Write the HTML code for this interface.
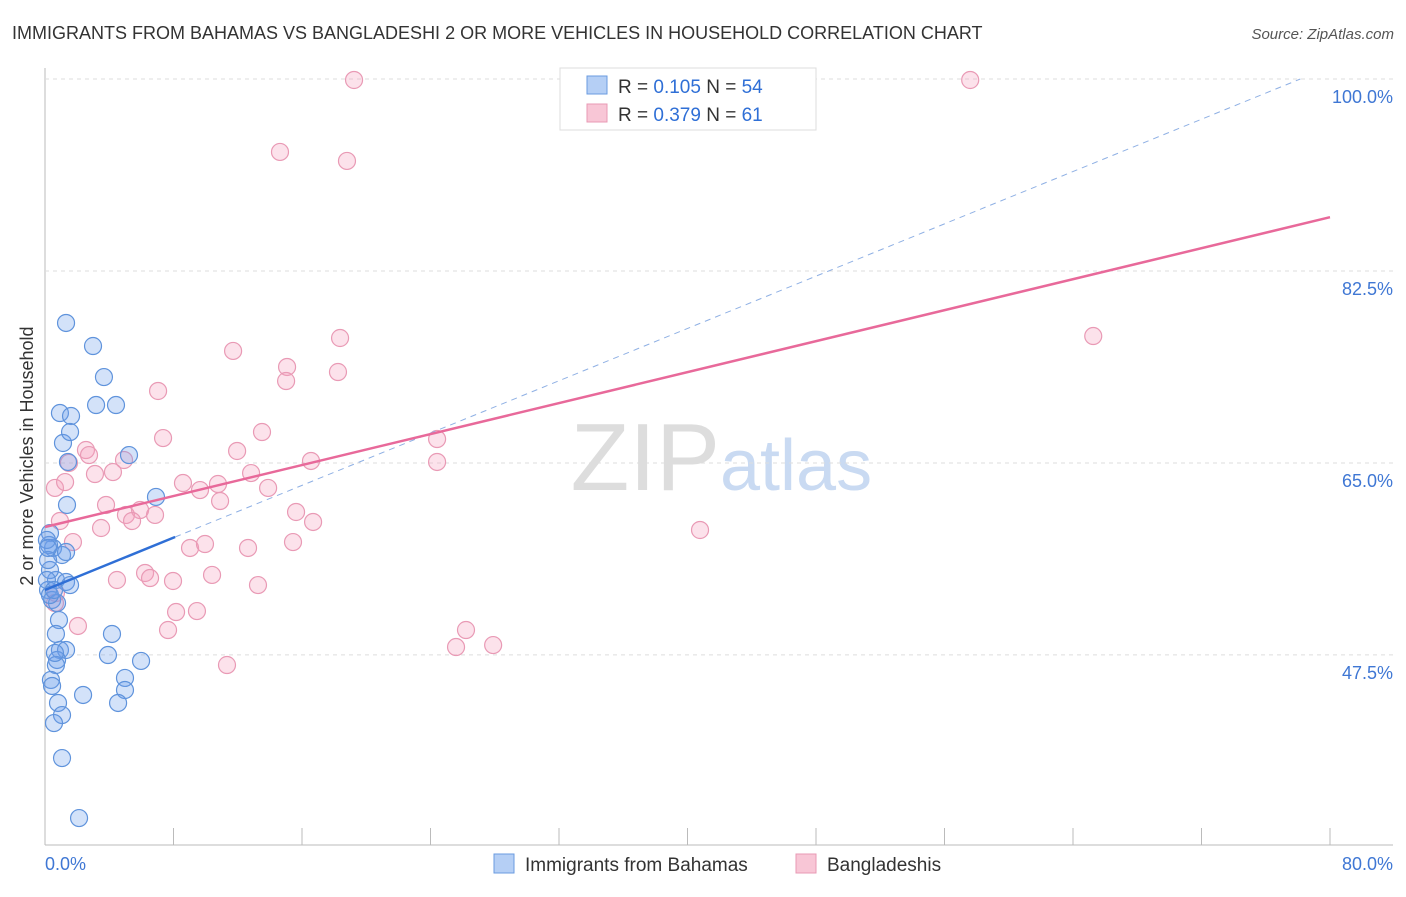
<!DOCTYPE html>
<html><head><meta charset="utf-8"><style>
body{margin:0;background:#fff;font-family:"Liberation Sans",sans-serif}
svg text{font-family:"Liberation Sans",sans-serif}
</style></head><body>
<svg id="c" width="1406" height="892">
<text x="12" y="39" font-size="18" fill="#333">IMMIGRANTS FROM BAHAMAS VS BANGLADESHI 2 OR MORE VEHICLES IN HOUSEHOLD CORRELATION CHART</text>
<text x="1394" y="39" font-size="15" fill="#555" text-anchor="end" font-style="italic">Source: ZipAtlas.com</text>
<text x="720" y="490" font-size="96" fill="#ddd" text-anchor="end" font-family="Liberation Serif">ZIP</text>
<text x="720" y="490" font-size="72" fill="#c9daf2">atlas</text>
<text transform="translate(33,456) rotate(-90)" font-size="18" fill="#333" text-anchor="middle">2 or more Vehicles in Household</text>
<g id="grid"></g><g id="marks"></g>
<g>
<rect x="560" y="68" width="256" height="62" fill="#fff" stroke="#ddd"/>
<rect x="587" y="76" width="20" height="18" fill="#b5cff5" stroke="#6a9be0"/>
<rect x="587" y="104" width="20" height="18" fill="#f8c6d6" stroke="#e89ab4"/>
<text x="618" y="93" font-size="19" fill="#333">R = <tspan fill="#2f6fd6">0.105</tspan>   N = <tspan fill="#2f6fd6">54</tspan></text>
<text x="618" y="121" font-size="19" fill="#333">R = <tspan fill="#2f6fd6">0.379</tspan>   N =  <tspan fill="#2f6fd6">61</tspan></text>
</g>
<g>
<rect x="494" y="854" width="20" height="19" fill="#b5cff5" stroke="#6a9be0"/>
<text x="525" y="871" font-size="19" fill="#333">Immigrants from Bahamas</text>
<rect x="796" y="854" width="20" height="19" fill="#f8c6d6" stroke="#e89ab4"/>
<text x="827" y="871" font-size="19" fill="#333">Bangladeshis</text>
</g>
</svg>
<script>
const yTicks=[47.5,65.0,82.5,100.0];
const xTickLabels=["0.0%","80.0%"];
const blueX=[1.31,2.99,3.67,3.18,4.42,0.93,1.62,1.12,1.56,5.23,1.43,6.91,1.37,0.31,0.50,1.06,0.25,1.31,0.68,1.31,1.56,0.31,0.19,0.44,0.75,0.87,0.68,4.17,0.93,1.31,0.75,0.68,3.92,5.98,4.98,4.98,0.37,0.44,2.37,0.81,4.55,1.06,0.56,1.06,2.12,0.19,0.12,0.31,0.56,0.12,0.19,0.62];
const blueY=[77.76,75.66,72.83,70.28,70.28,69.55,69.28,66.82,67.82,65.72,65.09,61.90,61.17,58.61,57.25,56.61,57.52,56.88,54.33,54.15,53.87,55.24,53.42,52.51,52.23,50.68,49.41,49.41,47.95,47.95,47.04,46.58,47.49,46.95,45.40,44.30,45.22,44.67,43.85,43.12,43.12,42.02,41.29,38.10,32.63,56.15,54.33,52.96,53.42,57.98,57.25,47.68];
const pinkX=[19.24,57.60,14.63,18.80,65.26,11.71,18.37,15.07,18.24,15.01,7.04,7.35,13.51,11.96,2.55,2.74,4.92,1.49,4.23,3.11,12.83,8.59,9.65,10.77,16.56,24.41,24.41,13.89,0.62,1.25,3.80,10.90,15.63,5.04,5.92,6.85,5.42,0.93,16.69,3.49,1.74,40.78,9.03,9.96,12.64,15.44,6.23,6.54,7.97,10.40,13.26,4.48,0.68,0.62,8.16,9.46,2.05,7.66,26.21,25.59,27.90,11.33];
const pinkY=[99.91,99.91,93.35,92.53,76.57,75.21,76.39,73.75,73.29,72.47,71.56,67.27,67.82,66.09,66.18,65.72,65.27,65.00,64.17,63.99,64.08,63.17,62.53,63.08,65.18,67.18,65.09,62.72,62.72,63.26,61.17,61.53,60.53,60.26,60.71,60.26,59.71,59.71,59.62,59.07,57.79,58.89,57.25,57.61,57.25,57.79,54.97,54.51,54.24,54.79,53.87,54.33,53.14,52.23,51.41,51.50,50.14,49.77,49.77,48.22,48.40,46.58];
const blueTrend=[53.42,0.596];
const pinkTrend=[59.16,0.353];
const NS='http://www.w3.org/2000/svg';
const sx=v=>45+v*16.0625, sy=v=>79+(100-v)*10.97;
function mk(t,a,p){const e=document.createElementNS(NS,t);for(const k in a)e.setAttribute(k,a[k]);p.appendChild(e);return e;}
const g=document.getElementById('grid'),m=document.getElementById('marks');
const ax=mk('line',{x1:45,y1:68,x2:45,y2:845,stroke:'#bbb'},g);


const bx=mk('line',{x1:45,y1:845,x2:1393,y2:845,stroke:'#bbb'},g);


for(let i=1;i<=10;i++){const t=mk('line',{x1:sx(i*8),x2:sx(i*8),y1:828,y2:845,stroke:'#bbb'},g);

}
yTicks.forEach(v=>{const l=mk('line',{x1:45,x2:1393,y1:sy(v),y2:sy(v),stroke:'#ddd','stroke-dasharray':'4,4'},g);


const t=mk('text',{x:1393,y:sy(v)+24,'font-size':18,fill:'#3f77d4','text-anchor':'end'},g);t.textContent=v.toFixed(1)+'%';

});
xTickLabels.forEach((s,i)=>{const t=mk('text',{x:i?1393:45,y:870,'font-size':18,fill:'#3f77d4','text-anchor':i?'end':'start'},g);t.textContent=s;

});
function pts(X,Y,fill,stroke,name){X.forEach((x,i)=>{const c=mk('circle',{cx:sx(x),cy:sy(Y[i]),r:8.5,fill:fill,stroke:stroke,'stroke-width':1.2},m);

});}
pts(pinkX,pinkY,'rgba(244,160,188,0.3)','#e99ab5','point-bangladeshi');
pts(blueX,blueY,'rgba(110,160,235,0.3)','#5f93dc','point-bahamas');
const xEnd=(100-blueTrend[0])/blueTrend[1];
const d=mk('line',{x1:sx(8.1),y1:sy(blueTrend[0]+blueTrend[1]*8.1),x2:sx(xEnd),y2:sy(100),stroke:'#8fb0e4','stroke-dasharray':'6,5','stroke-width':1},m);


const b=mk('line',{x1:sx(0),y1:sy(blueTrend[0]),x2:sx(8.1),y2:sy(blueTrend[0]+blueTrend[1]*8.1),stroke:'#2f6fd6','stroke-width':2.5},m);


const p=mk('line',{x1:sx(0),y1:sy(pinkTrend[0]),x2:sx(80),y2:sy(pinkTrend[0]+pinkTrend[1]*80),stroke:'#e8699a','stroke-width':2.5},m);


</script>
</body></html>
